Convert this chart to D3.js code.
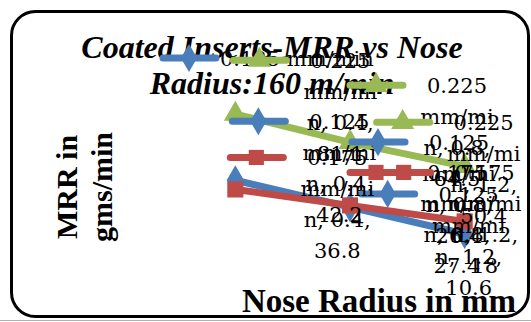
<!DOCTYPE html>
<html>
<head>
<meta charset="utf-8">
<script src="https://cdn.jsdelivr.net/npm/d3@7"></script>
<style>
  body { margin: 0; background: #fff; }
  svg { display: block; }
</style>
</head>
<body>
<div id="chart"></div>
<script>
// Chart data
const categories = ["0.4", "0.8", "1.2"];
const seriesNames = ["0.125 mm/min", "0.175 mm/min", "0.225 mm/min"];
const mrr0125 = [42.2, 26.4, 10.6];
const mrr0175 = [36.8, 27.4, 18];
const mrr0225 = [81.1, 64.5, 50.4];

const seriesColors = ["#4A7EBB", "#BE4B48", "#98B954"];
const seriesSymbols = [d3.symbolDiamond, d3.symbolSquare, d3.symbolTriangle];

// where each data label sits, relative to its point (dx to key start, dy to first line)
const labelOffsets = [
    [[-3, -59], [2, -65], [-103, -40]],
    [[-5, -32], [0, -33], [-87, -49]],
    [[-2, -54], [0, -57], [-88, -44]]
];

const width = 531, height = 322;

const svg = d3.select("#chart").append("svg")
    .attr("width", width)
    .attr("height", height);

// outer frame
svg.append("line")
    .attr("x1", 0).attr("x2", width)
    .attr("y1", 320.5).attr("y2", 320.5)
    .attr("stroke", "#b0b0b0")
    .attr("stroke-width", 1);

svg.append("rect")
    .attr("x", 11.5).attr("y", 11.5)
    .attr("width", 517).attr("height", 305)
    .attr("rx", 24).attr("ry", 24)
    .attr("fill", "#fff")
    .attr("stroke", "#000")
    .attr("stroke-width", 3);

// Title
const title = svg.append("text")
    .attr("text-anchor", "middle")
    .style("font-family", "'Liberation Serif', serif")
    .style("font-weight", "bold")
    .style("font-style", "italic")
    .style("font-size", "32px");
title.append("tspan").attr("x", 272).attr("y", 58).text("Coated Inserts-MRR vs Nose");
title.append("tspan").attr("x", 272).attr("y", 94).text("Radius:160 m/min");

// Axis titles
const yTitle = svg.append("text")
    .attr("transform", "translate(0, 187) rotate(-90)")
    .attr("text-anchor", "middle")
    .style("font-family", "'Liberation Serif', serif")
    .style("font-weight", "bold")
    .style("font-size", "30px");
yTitle.append("tspan").attr("x", 0).attr("y", 77).text("MRR in");
yTitle.append("tspan").attr("x", 0).attr("y", 112).text("gms/min");

svg.append("text")
    .attr("x", 379).attr("y", 312)
    .attr("text-anchor", "middle")
    .style("font-family", "'Liberation Serif', serif")
    .style("font-weight", "bold")
    .style("font-size", "33px")
    .text("Nose Radius in mm");

// Scales (no axis lines are shown on the original)
const x = d3.scalePoint()
    .domain(categories)
    .range([178, 522])
    .padding(0.5);

const y = d3.scaleLinear()
    .domain([0, 90])
    .range([252, 99]);

const series = seriesNames.map((name, i) => ({
    name: name,
    color: seriesColors[i],
    symbol: seriesSymbols[i],
    values: [mrr0125, mrr0175, mrr0225][i].map((v, j) => ({ cat: categories[j], value: v }))
}));

const line = d3.line()
    .x(d => x(d.cat))
    .y(d => y(d.value));

// Lines and markers
const gs = svg.selectAll(".series")
    .data(series)
    .enter()
    .append("g")
    .attr("class", "series");

gs.append("path")
    .attr("d", d => line(d.values))
    .attr("fill", "none")
    .attr("stroke", d => d.color)
    .attr("stroke-width", 7)
    .attr("stroke-linejoin", "round")
    .attr("stroke-linecap", "round");

gs.each(function(s) {
    d3.select(this).selectAll(".marker")
        .data(s.values)
        .enter()
        .append("path")
        .attr("class", "marker")
        .attr("d", d3.symbol().type(s.symbol).size(s.symbol === d3.symbolTriangle ? 230 : 260))
        .attr("transform", d => `translate(${x(d.cat)}, ${y(d.value)})`)
        .attr("fill", s.color);
});

// a legend key (line + marker)
function drawKey(g, s, x0, y0) {
    g.append("line")
        .attr("x1", x0).attr("x2", x0 + 53)
        .attr("y1", y0).attr("y2", y0)
        .attr("stroke", s.color)
        .attr("stroke-width", 7)
        .attr("stroke-linecap", "round");
    g.append("path")
        .attr("d", d3.symbol().type(s.symbol).size(230))
        .attr("transform", `translate(${x0 + 26}, ${y0})`)
        .attr("fill", s.color);
}

const labelFont = "'DejaVu Serif', serif";

// lone legend entry at the top
const legend = svg.append("g");
drawKey(legend, series[0], 163, 58);
legend.append("text")
    .attr("x", 220).attr("y", 66)
    .style("font-family", labelFont)
    .style("font-size", "21px")
    .text(series[0].name);

// Data labels: legend key + "series, category, value", wrapped
const labels = svg.append("g");
series.forEach((s, i) => {
    s.values.forEach((d, j) => {
        const kx = x(d.cat) + labelOffsets[i][j][0];
        const ky = y(d.value) + labelOffsets[i][j][1];
        drawKey(labels, s, kx, ky);

        const parts = s.name.split(" ");
        const lines = [
            parts[0],
            parts[1].slice(0, 5),
            parts[1].slice(5) + ", " + d.cat + ",",
            String(d.value)
        ];
        const t = labels.append("text")
            .attr("text-anchor", "middle")
            .style("font-family", labelFont)
            .style("font-size", "21px");
        lines.forEach((ln, k) => {
            t.append("tspan")
                .attr("x", kx + 107)
                .attr("y", ky + 8 + k * 31)
                .text(ln);
        });
    });
});
</script>
</body>
</html>
